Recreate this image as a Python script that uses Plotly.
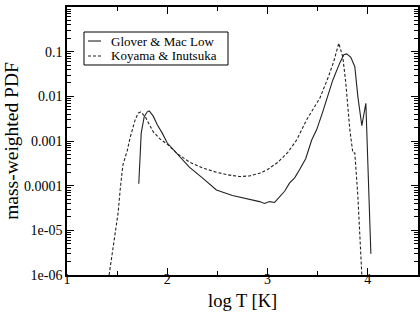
import plotly.graph_objects as go

# Glover & Mac Low (solid)
glover_logT = [1.716, 1.74, 1.77, 1.80, 1.82, 1.86, 1.90, 1.95, 2.00, 2.10, 2.22, 2.35, 2.49,
               2.65, 2.82, 2.92, 2.97, 3.02, 3.07, 3.12, 3.17, 3.22, 3.27, 3.32, 3.38, 3.44,
               3.49, 3.55, 3.59, 3.65, 3.72, 3.76, 3.79, 3.83, 3.87, 3.90, 3.94, 3.98, 4.03]
glover_pdf = [1.1e-4, 1.5e-3, 3.5e-3, 4.5e-3, 4.7e-3, 3.6e-3, 2.3e-3, 1.5e-3, 9e-4, 5e-4,
              2.6e-4, 1.5e-4, 8e-5, 6e-5, 5e-5, 4.4e-5, 4.0e-5, 4.4e-5, 4.2e-5, 5.5e-5,
              7.5e-5, 1.15e-4, 1.5e-4, 2.3e-4, 4e-4, 1.05e-3, 1.8e-3, 4.5e-3, 8.3e-3,
              0.023, 0.056, 0.085, 0.089, 0.075, 0.046, 0.01, 2.2e-3, 7e-3, 3e-6]

# Koyama & Inutsuka (dashed)
koyama_logT = [1.42, 1.46, 1.49, 1.51, 1.53, 1.557, 1.60, 1.63, 1.68, 1.71, 1.736, 1.78, 1.86,
               1.93, 2.00, 2.10, 2.22, 2.35, 2.49, 2.60, 2.72, 2.82, 2.92, 3.00, 3.10, 3.20,
               3.29, 3.39, 3.52, 3.60, 3.66, 3.71, 3.75, 3.78, 3.82, 3.84, 3.85, 3.87, 3.90,
               3.94]
koyama_pdf = [1e-6, 4.3e-6, 1.2e-5, 2.5e-5, 8e-5, 2.9e-4, 6e-4, 1.2e-3, 3e-3, 4.2e-3, 4.5e-3,
              3.5e-3, 1.6e-3, 1.1e-3, 8.5e-4, 5.2e-4, 3.4e-4, 2.5e-4, 2.0e-4, 1.75e-4, 1.6e-4,
              1.65e-4, 1.9e-4, 2.3e-4, 3.3e-4, 5.5e-4, 1.05e-3, 3e-3, 9e-3, 0.025, 0.06, 0.155,
              0.076, 0.02, 1.8e-3, 7e-4, 5.5e-4, 5.4e-4, 6e-5, 1.0e-6]

series_names = ["Glover & Mac Low", "Koyama & Inutsuka"]
x_ticks = [1, 2, 3, 4]
y_tickvals = [1, 0.1, 0.01, 0.001, 0.0001, 1e-5, 1e-6]
y_ticktext = ["1", "0.1", "0.01", "0.001", "0.0001", "1e-05", "1e-06"]
x_title = "log T [K]"
y_title = "mass-weighted PDF"

FONT = "Liberation Serif"
LINE = "#222222"
DASH = "3px,2px"

fig = go.Figure()
fig.add_trace(go.Scatter(x=glover_logT, y=glover_pdf, mode="lines", name=series_names[0],
                         line=dict(color=LINE, width=1.1), showlegend=False))
fig.add_trace(go.Scatter(x=koyama_logT, y=koyama_pdf, mode="lines", name=series_names[1],
                         line=dict(color=LINE, width=1.1, dash=DASH), showlegend=False))

# compact legend box (like the original)
box_x0, box_x1, box_y0, box_y1 = 0.0484, 0.4587, 0.7836, 0.9067
row_y = [0.8731, 0.8172]
fig.add_shape(type="rect", xref="paper", yref="paper", x0=box_x0, x1=box_x1, y0=box_y0, y1=box_y1,
              line=dict(color="black", width=1), fillcolor="white", layer="above")
for i, name in enumerate(series_names):
    fig.add_shape(type="line", xref="paper", yref="paper", x0=0.0598, x1=0.0969,
                  y0=row_y[i], y1=row_y[i], layer="above",
                  line=dict(color=LINE, width=1.1, dash=None if i == 0 else DASH))
    fig.add_annotation(xref="paper", yref="paper", x=0.1225, y=row_y[i], text=name,
                       showarrow=False, xanchor="left", yanchor="middle", borderpad=0,
                       font=dict(family=FONT, size=13, color="black"))

# x-axis title placed as in the original
fig.add_annotation(xref="paper", yref="paper", x=0.5, y=-0.097, text=x_title,
                   showarrow=False, xanchor="center", yanchor="middle", borderpad=0,
                   font=dict(family=FONT, size=18.5, color="black"))

fig.update_layout(
    width=420, height=312,
    margin=dict(l=67, r=2, t=7, b=37),
    paper_bgcolor="white", plot_bgcolor="white",
    font=dict(family=FONT, size=13, color="black"),
    showlegend=False,
)
fig.update_xaxes(
    automargin=False,
    range=[1, 4.5], tickvals=x_ticks, ticktext=[str(v) for v in x_ticks],
    ticks="inside", ticklen=7, tickwidth=1, tickcolor="black",
    minor=dict(ticks="inside", ticklen=4, dtick=0.5, tickcolor="black", showgrid=False),
    showline=True, linecolor="black", linewidth=1.5, mirror="allticks",
    showgrid=False, zeroline=False, ticklabelstandoff=-10,
    tickfont=dict(family=FONT, size=14),
)
fig.update_yaxes(
    automargin=False,
    type="log", range=[-6, 0], tickvals=y_tickvals, ticktext=y_ticktext,
    ticks="inside", ticklen=7, tickwidth=1, tickcolor="black",
    minor=dict(ticks="inside", ticklen=4, dtick="D1", tickcolor="black", showgrid=False),
    showline=True, linecolor="black", linewidth=1.5, mirror="allticks",
    showgrid=False, zeroline=False,
    title=dict(text=y_title, font=dict(family=FONT, size=19.5), standoff=0),
    tickfont=dict(family=FONT, size=14),
)

fig.write_html("out.html", config={"displayModeBar": False},
               post_script="document.body.style.margin='0';")
